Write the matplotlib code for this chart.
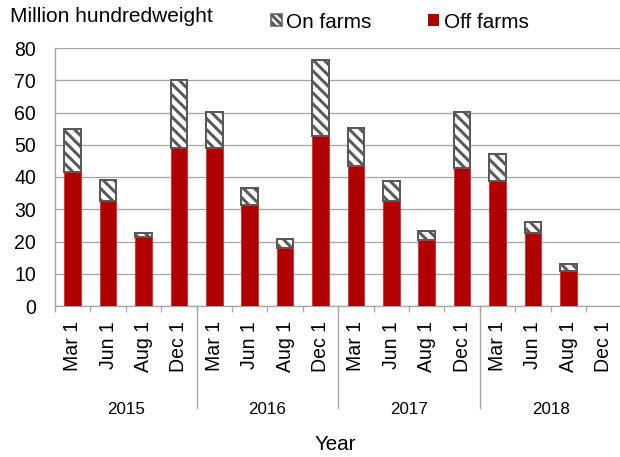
import matplotlib
matplotlib.use("Agg")
import matplotlib.pyplot as plt
import numpy as np
from matplotlib.patches import Patch
from matplotlib.transforms import blended_transform_factory

# low dpi so the hatch spacing matches the reference stripes
DPI = 66


def px(v):
    """Convert a size in pixels to points at the figure dpi."""
    return v * 72 / DPI


years = ["2015", "2016", "2017", "2018"]
months = ["Mar 1", "Jun 1", "Aug 1", "Dec 1"]

# million hundredweight, Dec 1 2018 not yet reported
off_farms = [41.6, 32.6, 21.5, 48.9, 48.9, 31.3, 17.9, 52.7,
             43.4, 32.7, 20.5, 42.9, 38.8, 22.5, 10.9, np.nan]
on_farms = [13.2, 6.5, 1.0, 21.2, 11.3, 5.4, 2.8, 23.6,
            11.8, 6.2, 2.9, 17.3, 8.4, 3.4, 2.0, np.nan]

RED = "#b00000"
HATCH_GRAY = "#595959"
GRID = "#a6a6a6"

plt.rcParams["font.family"] = ["Liberation Sans", "DejaVu Sans"]
plt.rcParams["hatch.linewidth"] = px(3)
plt.rcParams["hatch.color"] = HATCH_GRAY

fig = plt.figure(figsize=(620 / DPI, 457 / DPI), dpi=DPI)
ax = fig.add_axes([55 / 620, 151 / 457, 566.4 / 620, 258 / 457])

x = np.arange(len(off_farms))
labels = months * len(years)

ax.bar(x, off_farms, width=0.47, color=RED, edgecolor="#c83030",
       linewidth=px(0.8), zorder=3)
ax.bar(x, on_farms, bottom=off_farms, width=0.47, facecolor="white",
       edgecolor=HATCH_GRAY, hatch="\\\\", linewidth=px(2), zorder=3)

ax.set_xlim(-0.5, len(x) - 0.5)
ax.set_ylim(0, 80)
ax.set_yticks(range(0, 81, 10))
ax.yaxis.grid(True, color=GRID, linewidth=px(1.3))
ax.set_axisbelow(True)

for side in ["top", "right"]:
    ax.spines[side].set_visible(False)
for side in ["left", "bottom"]:
    ax.spines[side].set_color(GRID)
    ax.spines[side].set_linewidth(px(1.3))

ax.tick_params(axis="y", length=0, pad=px(19), labelsize=px(19.5))
ax.set_xticks(x)
ax.set_xticklabels(labels, rotation=90)
ax.tick_params(axis="x", which="major", length=0, pad=px(15), labelsize=px(19.5))
ax.set_xticks(np.arange(-0.5, len(x), 1), minor=True)
ax.tick_params(axis="x", which="minor", length=px(6), width=px(1.3), color=GRID)

# year group labels and separators below the month labels
trans = blended_transform_factory(ax.transData, ax.transAxes)
n = len(months)
for i, year in enumerate(years):
    ax.text(i * n + (n - 1) / 2, -0.400, year, transform=trans,
            ha="center", va="center", fontsize=px(17))
    if i > 0:
        b = i * n - 0.5
        ax.plot([b, b], [0, -0.395], transform=trans, clip_on=False,
                color=GRID, linewidth=px(1.3))

fig.text(10 / 620, 1 - 16 / 457, "Million hundredweight",
         fontsize=px(20.9), va="center")
fig.text(335 / 620, 1 - 444 / 457, "Year", ha="center", va="center",
         fontsize=px(20.5))

handles = [
    Patch(facecolor="white", edgecolor=HATCH_GRAY, hatch="\\\\\\",
          linewidth=px(1.5), label="On farms"),
    Patch(facecolor=RED, label="Off farms"),
]
fig.legend(handles=handles, loc="center left",
           bbox_to_anchor=(270.7 / 620, 1 - 22 / 457), ncol=2, frameon=False,
           fontsize=px(20.8), handlelength=0.53, handleheight=0.53,
           handletextpad=0.2, columnspacing=2.75, borderpad=0,
           borderaxespad=0)

fig.savefig("out.png", dpi=DPI)
